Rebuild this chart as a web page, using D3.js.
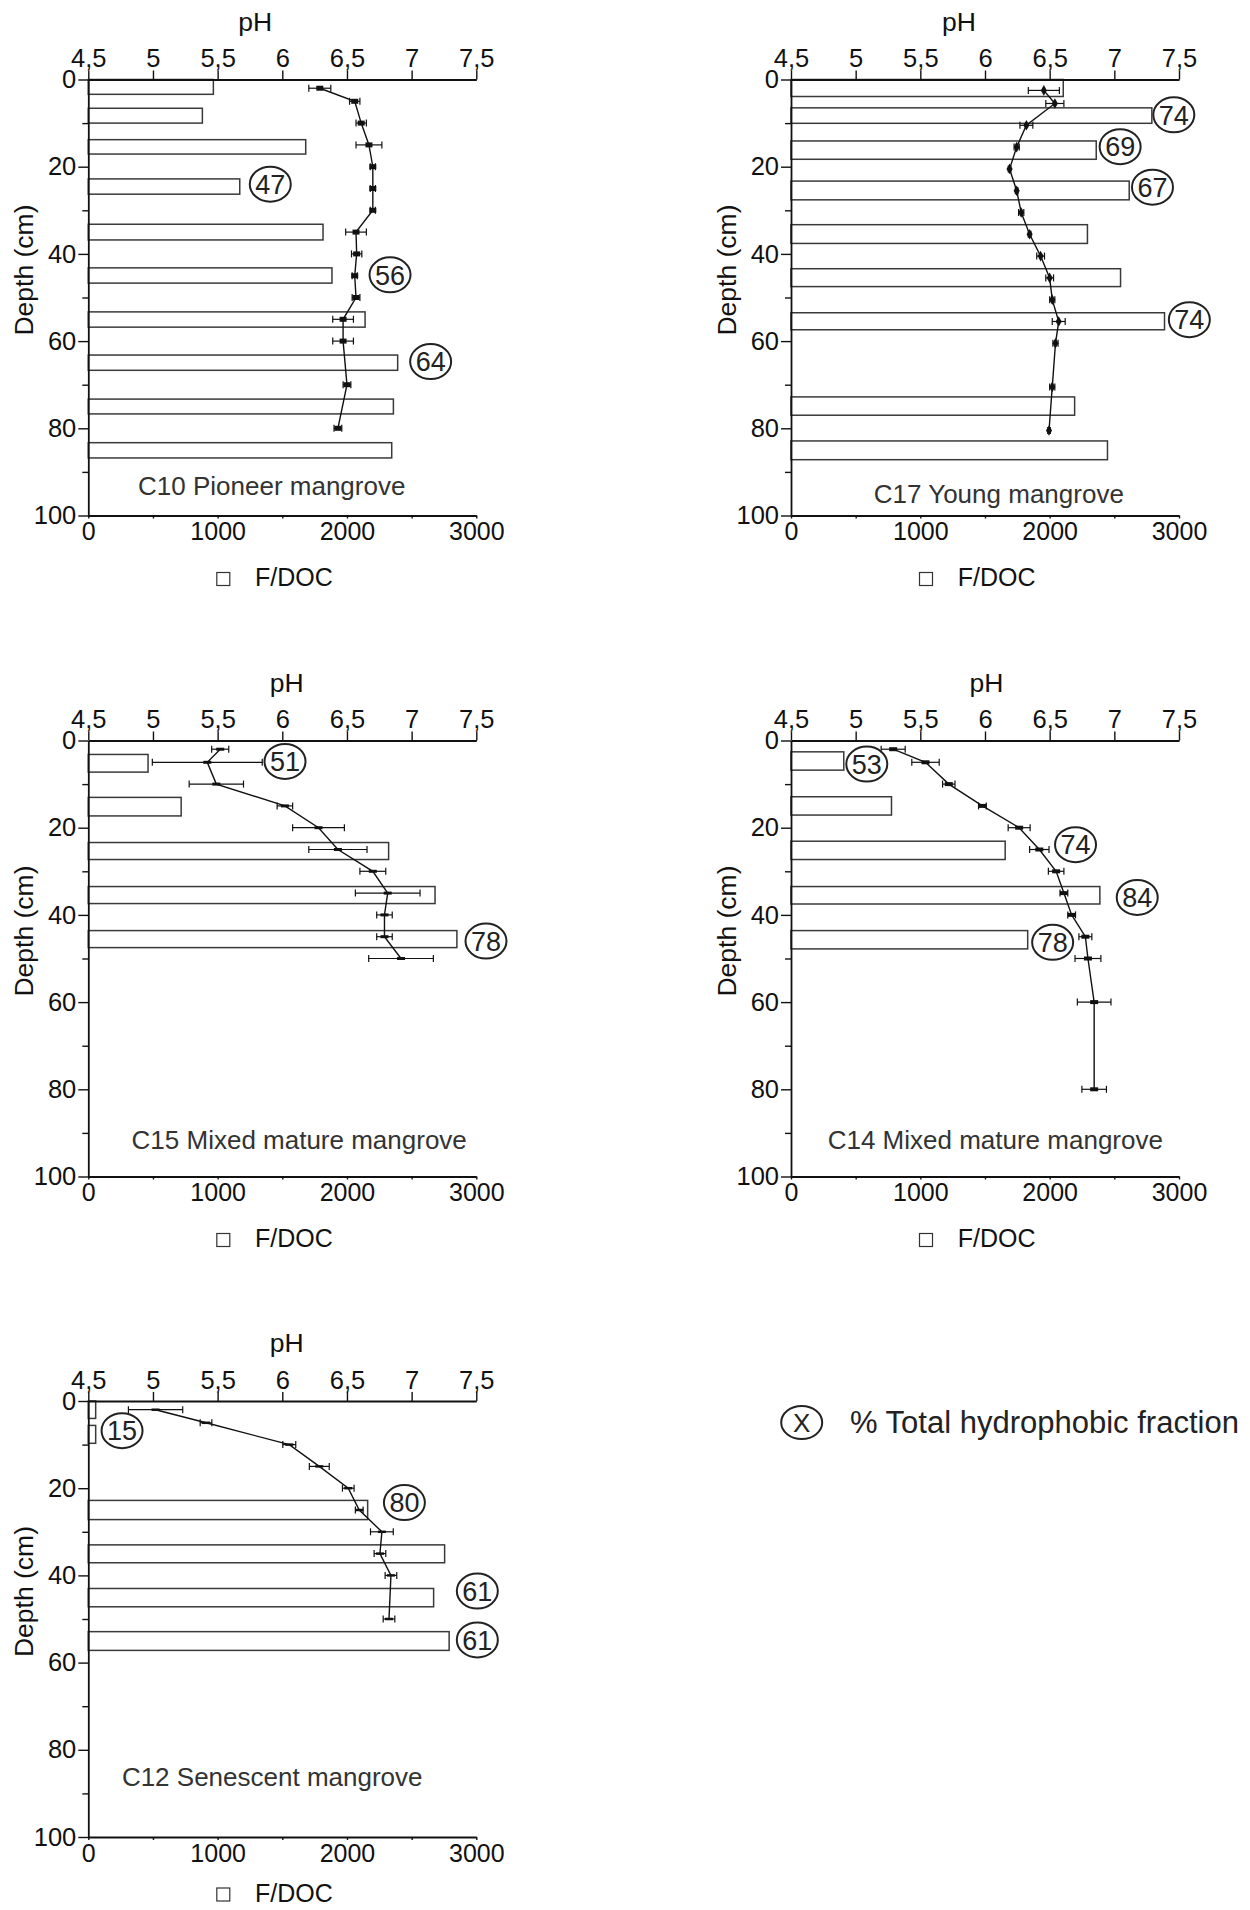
<!DOCTYPE html>
<html><head><meta charset="utf-8">
<script src="https://cdn.jsdelivr.net/npm/d3@7"></script>
<style>
html,body{margin:0;padding:0;background:#fff;}
svg{display:block;font-family:"Liberation Sans",Arial,Helvetica,sans-serif;}
</style></head>
<body><svg id="chart" width="1250" height="1910"></svg>
<script>
// ================= DATA =================
const panelNames = ["C10 Pioneer mangrove","C17 Young mangrove","C15 Mixed mature mangrove","C14 Mixed mature mangrove","C12 Senescent mangrove"];
const phTicks = [4.5,5,5.5,6,6.5,7,7.5];
const phTickLabels = ["4,5","5","5,5","6","6,5","7","7,5"];
const fdocTicks = [0,1000,2000,3000];
const fdocMinorTicks = [500,1500,2500];
const depthTicks = [0,20,40,60,80,100];
const depthMinorTicks = [10,30,50,70,90];
const phTitle = "pH";
const depthTitle = "Depth (cm)";
const fdocLegend = "F/DOC";
const hydroLegendSymbol = "X";
const hydroLegend = "% Total hydrophobic fraction";

// C10 Pioneer mangrove
const c10BarTop    = [0,6.6,13.8,22.8,33.2,43.2,53.3,63.2,73.3,83.3];
const c10BarBottom = [3.4,10,17.1,26.3,36.8,46.7,56.8,66.7,76.7,86.8];
const c10Fdoc      = [967,882,1681,1171,1815,1884,2140,2392,2359,2346];
const c10PhDepth   = [2,5,10,15,20,25,30,35,40,45,50,55,60,70,80];
const c10Ph        = [6.29,6.56,6.61,6.67,6.70,6.70,6.70,6.57,6.575,6.56,6.57,6.47,6.47,6.50,6.43];
const c10PhErr     = [0.085,0.04,0.04,0.1,0.02,0.02,0.02,0.08,0.04,0.02,0.03,0.08,0.08,0.03,0.03];
const c10Hydro     = [47,56,64];

// C17 Young mangrove
const c17BarTop    = [0,6.5,14.1,23.3,33.3,43.4,53.5,72.8,82.9];
const c17BarBottom = [3.9,10.05,18.3,27.6,37.6,47.5,57.4,77,87.2];
const c17Fdoc      = [2105,2790,2360,2615,2292,2548,2888,2193,2447];
const c17PhDepth   = [2.5,5.5,10.5,15.5,20.5,25.5,30.5,35.5,40.5,45.5,50.5,55.5,60.5,70.5,80.5];
const c17Ph        = [6.455,6.54,6.32,6.245,6.19,6.245,6.28,6.345,6.43,6.50,6.52,6.57,6.545,6.52,6.495];
const c17PhErr     = [0.12,0.07,0.05,0.02,0.01,0.01,0.02,0.01,0.03,0.03,0.02,0.05,0.02,0.02,0.01];
const c17Hydro     = [74,69,67,74];

// C15 Mixed mature mangrove
const c15BarTop    = [3.2,13.05,23.4,33.5,43.6];
const c15BarBottom = [7.25,17.3,27.3,37.4,47.5];
const c15Fdoc      = [462,718,2322,2681,2850];
const c15PhDepth   = [2,5,10,15,20,25,30,35,40,45,50];
const c15Ph        = [5.52,5.42,5.49,6.02,6.28,6.43,6.70,6.815,6.79,6.79,6.918];
const c15PhErr     = [0.066,0.425,0.21,0.06,0.2,0.225,0.1,0.25,0.06,0.06,0.25];
const c15Hydro     = [51,78];

// C14 Mixed mature mangrove
const c14BarTop    = [2.6,12.9,23.1,33.5,43.6];
const c14BarBottom = [6.8,17.1,27.3,37.5,47.8];
const c14Fdoc      = [408,777,1656,2388,1830];
const c14PhDepth   = [2,5,10,15,20,25,30,35,40,45,50,60,80];
const c14Ph        = [5.29,5.54,5.72,5.98,6.264,6.42,6.55,6.61,6.67,6.776,6.796,6.844,6.844];
const c14PhErr     = [0.093,0.106,0.048,0.03,0.085,0.075,0.06,0.03,0.03,0.05,0.1,0.13,0.095];
const c14Hydro     = [53,74,84,78];

// C12 Senescent mangrove
const c12BarTop    = [0,5.6,22.8,33,43,52.9];
const c12BarBottom = [4,9.7,27.2,37.1,47.2,57.2];
const c12Fdoc      = [57,57,2160,2755,2670,2790];
const c12PhDepth   = [2,5,10,15,20,25,30,35,40,50];
const c12Ph        = [5.02,5.41,6.054,6.286,6.51,6.595,6.77,6.755,6.84,6.825];
const c12PhErr     = [0.21,0.045,0.05,0.077,0.045,0.03,0.088,0.045,0.045,0.045];
const c12Hydro     = [15,80,61,61];

// ================= ANNOTATION PLACEMENT (data units: F/DOC, depth) =================
const c10HydroAt = [[1407,24],[2333,44.8],[2647,64.7]];
const c17HydroAt = [[2960,8.1],[2545,15.4],[2795,24.7],[3080,55.1]];
const c15HydroAt = [[1521,4.8],[3075,46]];
const c14HydroAt = [[586,5.4],[2200,23.9],[2677,36],[2023,46.3]];
const c12HydroAt = [[261,6.8],[2444,23.3],[3008,43.6],[3008,54.8]];

// ================= LAYOUT =================
const PW = 388, PH = 436;
const layout = [
  {x:88.3, y:79.5,  phTitleX:167,   titleX:183.4, titleY:406.5, legendDy:0,  marker:{w:7,h:5,shape:"rect"}},
  {x:791,  y:79.5,  phTitleX:168,   titleX:207.8, titleY:414,   legendDy:0,  marker:{w:6,h:6,shape:"diamond"}},
  {x:88.3, y:740.5, phTitleX:198.5, titleX:210.9, titleY:399.8, legendDy:0,  marker:{w:8,h:3,shape:"rect"}},
  {x:791,  y:740.5, phTitleX:195.5, titleX:204.3, titleY:399.8, legendDy:0,  marker:{w:8,h:4,shape:"rect"}},
  {x:88.3, y:1401,  phTitleX:198.5, titleX:183.9, titleY:376,   legendDy:-6, marker:{w:8,h:2.5,shape:"rect"}}
];

const panels = [
  {name:panelNames[0], top:c10BarTop, bottom:c10BarBottom, fdoc:c10Fdoc, phD:c10PhDepth, ph:c10Ph, err:c10PhErr, hydro:c10Hydro, hydroAt:c10HydroAt},
  {name:panelNames[1], top:c17BarTop, bottom:c17BarBottom, fdoc:c17Fdoc, phD:c17PhDepth, ph:c17Ph, err:c17PhErr, hydro:c17Hydro, hydroAt:c17HydroAt},
  {name:panelNames[2], top:c15BarTop, bottom:c15BarBottom, fdoc:c15Fdoc, phD:c15PhDepth, ph:c15Ph, err:c15PhErr, hydro:c15Hydro, hydroAt:c15HydroAt},
  {name:panelNames[3], top:c14BarTop, bottom:c14BarBottom, fdoc:c14Fdoc, phD:c14PhDepth, ph:c14Ph, err:c14PhErr, hydro:c14Hydro, hydroAt:c14HydroAt},
  {name:panelNames[4], top:c12BarTop, bottom:c12BarBottom, fdoc:c12Fdoc, phD:c12PhDepth, ph:c12Ph, err:c12PhErr, hydro:c12Hydro, hydroAt:c12HydroAt}
];

const svg = d3.select("#chart");
const INK = "#111";

const x = d3.scaleLinear().domain([0,3000]).range([0,PW]);
const xp = d3.scaleLinear().domain([4.5,7.5]).range([0,PW]);
const y = d3.scaleLinear().domain([0,100]).range([0,PH]);

function styleAxis(g, fs){
  g.select(".domain").attr("stroke", INK).attr("stroke-width", 1.8);
  g.selectAll(".tick line").attr("stroke", INK).attr("stroke-width", 1.4);
  g.selectAll(".tick text").attr("fill", INK).style("font-size", fs + "px")
    .style("font-family", '"Liberation Sans",Arial,Helvetica,sans-serif');
}

panels.forEach((p, i) => {
  const L = layout[i];
  const g = svg.append("g").attr("transform", `translate(${L.x},${L.y})`);

  // bars
  const bars = p.fdoc.map((v, k) => ({v, t:p.top[k], b:p.bottom[k]}));
  g.selectAll("rect.bar").data(bars).join("rect")
    .attr("class","bar")
    .attr("x", x(0))
    .attr("y", d => y(d.t))
    .attr("width", d => x(d.v) - x(0))
    .attr("height", d => y(d.b) - y(d.t))
    .attr("fill", "#fff").attr("stroke", "#3a3a3a").attr("stroke-width", 1.5);

  // axes
  const top = g.append("g").call(d3.axisTop(xp).tickValues(phTicks)
      .tickFormat((d, k) => phTickLabels[k]).tickSize(9).tickSizeOuter(0).tickPadding(3.5));
  styleAxis(top, 25.5);

  const bot = g.append("g").attr("transform", `translate(0,${PH})`)
    .call(d3.axisBottom(x).tickValues(fdocTicks.concat(fdocMinorTicks))
      .tickFormat(d => fdocTicks.includes(d) ? d3.format("d")(d) : "")
      .tickSize(3).tickSizeOuter(0).tickPadding(4));
  styleAxis(bot, 25);

  const left = g.append("g").call(d3.axisLeft(y).tickValues(depthTicks)
      .tickSize(10).tickSizeOuter(0).tickPadding(2));
  styleAxis(left, 25.5);
  const leftMinor = g.append("g").call(d3.axisLeft(y).tickValues(depthMinorTicks)
      .tickSize(6).tickSizeOuter(0).tickFormat(""));
  leftMinor.select(".domain").remove();
  styleAxis(leftMinor, 25);

  // titles
  g.append("text").attr("x", L.phTitleX).attr("y", -49)
    .attr("text-anchor","middle").attr("fill", INK).style("font-size","26.5px").text(phTitle);
  g.append("text").attr("transform", `translate(-55,190.5) rotate(-90)`)
    .attr("text-anchor","middle").attr("fill", INK).style("font-size","26.5px").text(depthTitle);
  g.append("text").attr("x", L.titleX).attr("y", L.titleY).attr("dy","0.35em")
    .attr("text-anchor","middle").attr("fill", "#333").style("font-size","26px").text(p.name);

  // F/DOC legend
  g.append("rect").attr("x",128.5).attr("y",493 + L.legendDy).attr("width",13).attr("height",13)
    .attr("fill","#fff").attr("stroke","#333").attr("stroke-width",1.2);
  g.append("text").attr("x",166.7).attr("y",506.5 + L.legendDy).attr("fill", INK)
    .style("font-size","25px").text(fdocLegend);

  // pH error bars
  const pts = p.ph.map((v, k) => ({v, d:p.phD[k], e:p.err[k]}));
  const eb = g.selectAll("g.eb").data(pts).join("g").attr("class","eb");
  eb.append("line").attr("x1", d => xp(d.v - d.e)).attr("x2", d => xp(d.v + d.e))
    .attr("y1", d => y(d.d)).attr("y2", d => y(d.d)).attr("stroke", INK).attr("stroke-width", 1.2);
  eb.append("line").attr("x1", d => xp(d.v - d.e)).attr("x2", d => xp(d.v - d.e))
    .attr("y1", d => y(d.d) - 3.5).attr("y2", d => y(d.d) + 3.5).attr("stroke", INK).attr("stroke-width", 1.2);
  eb.append("line").attr("x1", d => xp(d.v + d.e)).attr("x2", d => xp(d.v + d.e))
    .attr("y1", d => y(d.d) - 3.5).attr("y2", d => y(d.d) + 3.5).attr("stroke", INK).attr("stroke-width", 1.2);

  // pH line
  const line = d3.line().x(d => xp(d.v)).y(d => y(d.d));
  g.append("path").datum(pts).attr("d", line).attr("fill","none")
    .attr("stroke", INK).attr("stroke-width", 1.4);

  // markers
  const m = L.marker;
  if (m.shape === "diamond") {
    g.selectAll("path.mk").data(pts).join("path").attr("class","mk")
      .attr("d", d3.symbol().type(d3.symbolDiamond).size(m.w * m.h * 0.9))
      .attr("transform", d => `translate(${xp(d.v)},${y(d.d)})`).attr("fill", INK);
  } else {
    g.selectAll("rect.mk").data(pts).join("rect").attr("class","mk")
      .attr("x", d => xp(d.v) - m.w / 2).attr("y", d => y(d.d) - m.h / 2)
      .attr("width", m.w).attr("height", m.h).attr("fill", INK);
  }

  // hydrophobic fraction labels
  const hl = p.hydro.map((v, k) => ({v, f:p.hydroAt[k][0], d:p.hydroAt[k][1]}));
  const hg = g.selectAll("g.hl").data(hl).join("g").attr("class","hl")
    .attr("transform", d => `translate(${x(d.f)},${y(d.d)})`);
  hg.append("ellipse").attr("rx", 20.5).attr("ry", 17.5)
    .attr("fill","none").attr("stroke","#222").attr("stroke-width", 2);
  hg.append("text").attr("text-anchor","middle").attr("dy","0.36em")
    .attr("fill","#222").style("font-size","27px").text(d => d.v);
});

// global legend
const lg = svg.append("g").attr("transform","translate(801.7,1422.5)");
lg.append("ellipse").attr("rx",20.5).attr("ry",16.5).attr("fill","none")
  .attr("stroke","#222").attr("stroke-width",2);
lg.append("text").attr("text-anchor","middle").attr("dy","0.36em").attr("fill","#222")
  .style("font-size","26px").text(hydroLegendSymbol);
svg.append("text").attr("x",850).attr("y",1432.5).attr("fill","#222")
  .style("font-size","31px").text(hydroLegend);
</script>
</body></html>
